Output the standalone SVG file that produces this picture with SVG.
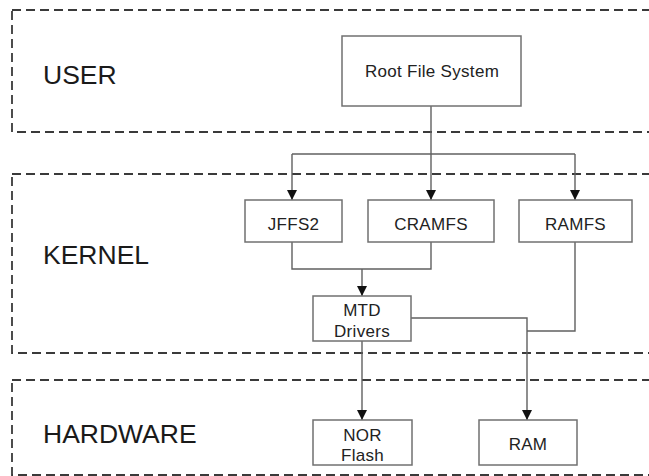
<svg xmlns="http://www.w3.org/2000/svg" width="649" height="476" viewBox="0 0 649 476">
  <style>
    .layer { fill: none; stroke: #3a3a3a; stroke-width: 1.8; stroke-dasharray: 9 5; }
    .layer-label { font-family: "Liberation Sans", Arial, sans-serif; font-size: 26.5px; fill: #1a1a1a; }
    .box { fill: #ffffff; stroke: #707070; stroke-width: 1.5; }
    .box-label { font-family: "Liberation Sans", Arial, sans-serif; font-size: 17px; fill: #222222; text-anchor: middle; letter-spacing: 0.3px; }
    .conn { fill: none; stroke: #606060; stroke-width: 1.4; }
  </style>
  <defs>
    <marker id="arrow" viewBox="0 0 10 10" refX="10" refY="5" markerWidth="10" markerHeight="10" markerUnits="userSpaceOnUse" orient="auto">
      <path d="M0,0 L10,5 L0,10 Z" fill="#111111"/>
    </marker>
  </defs>
  <rect width="649" height="476" fill="#ffffff"/>

  <g id="layer-user">
    <rect class="layer" x="12" y="10" width="660" height="122"/>
    <text class="layer-label" x="43" y="84">USER</text>
  </g>
  <g id="layer-kernel">
    <rect class="layer" x="12" y="174" width="660" height="179"/>
    <text class="layer-label" x="43" y="264">KERNEL</text>
  </g>
  <g id="layer-hardware">
    <rect class="layer" x="12" y="380" width="660" height="95"/>
    <text class="layer-label" x="43" y="443">HARDWARE</text>
  </g>

  <g id="connectors">
    <path class="conn" d="M431,106 L431,200" marker-end="url(#arrow)"/>
    <path class="conn" d="M292,154 L575,154"/>
    <path class="conn" d="M292,154 L292,200" marker-end="url(#arrow)"/>
    <path class="conn" d="M575,154 L575,200" marker-end="url(#arrow)"/>
    <path class="conn" d="M292,242 L292,269 L431,269 L431,242"/>
    <path class="conn" d="M362,269 L362,296" marker-end="url(#arrow)"/>
    <path class="conn" d="M411,318 L527,318 L527,420" marker-end="url(#arrow)"/>
    <path class="conn" d="M575,242 L575,331 L527,331"/>
    <path class="conn" d="M362,341 L362,420" marker-end="url(#arrow)"/>
  </g>

  <g id="node-rootfs">
    <rect class="box" x="342" y="36" width="179" height="70"/>
    <text class="box-label" x="432" y="77">Root File System</text>
  </g>
  <g id="node-jffs2">
    <rect class="box" x="245" y="200" width="97" height="42"/>
    <text class="box-label" x="293.5" y="230">JFFS2</text>
  </g>
  <g id="node-cramfs">
    <rect class="box" x="368" y="200" width="126" height="42"/>
    <text class="box-label" x="431" y="230">CRAMFS</text>
  </g>
  <g id="node-ramfs">
    <rect class="box" x="519" y="200" width="113" height="42"/>
    <text class="box-label" x="575.5" y="230">RAMFS</text>
  </g>
  <g id="node-mtd">
    <rect class="box" x="313" y="296" width="98" height="45"/>
    <text class="box-label" x="362" y="316">MTD</text>
    <text class="box-label" x="362" y="337">Drivers</text>
  </g>
  <g id="node-nor">
    <rect class="box" x="313" y="420" width="99" height="45"/>
    <text class="box-label" x="362.5" y="441">NOR</text>
    <text class="box-label" x="362.5" y="461">Flash</text>
  </g>
  <g id="node-ram">
    <rect class="box" x="479" y="420" width="98" height="45"/>
    <text class="box-label" x="528" y="450">RAM</text>
  </g>
</svg>
